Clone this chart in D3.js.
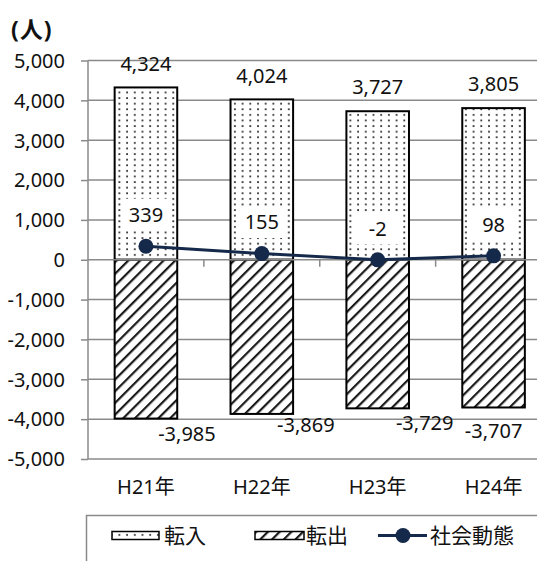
<!DOCTYPE html>
<html lang="ja">
<head>
<meta charset="utf-8">
<script src="https://cdn.jsdelivr.net/npm/d3@7/dist/d3.min.js"></script>
<style>
  html, body { margin: 0; padding: 0; background: #fff; }
  svg { display: block; }
  text { font-family: "Noto Sans", "Noto Sans CJK JP", sans-serif; fill: #111; }
</style>
</head>
<body>
<svg id="chart" width="537" height="561"></svg>
<script>
// 転入・転出・社会動態（人）
const categories = ["H21年", "H22年", "H23年", "H24年"];
const inflow = [4324, 4024, 3727, 3805];
const outflow = [-3985, -3869, -3729, -3707];
const netChange = [339, 155, -2, 98];
const yTicks = [5000, 4000, 3000, 2000, 1000, 0, -1000, -2000, -3000, -4000, -5000];
const seriesNames = ["転入", "転出", "社会動態"];
const unitLabel = "(人)";

// hand-placed offsets for the 転出 value labels (relative to bar centre / bar end)
const outLabelDx = [41, 44, 47, 0];
const outLabelDy = [15, 11, 14, 23];

const svg = d3.select("#chart");

const fmt = d3.formatLocale({ decimal: ".", thousands: ",", grouping: [3], currency: ["", ""], minus: "-" }).format(",");

const x = d3.scaleBand().domain(categories).range([88, 551.5]).paddingInner(0.46).paddingOuter(0.23);
const y = d3.scaleLinear().domain([-5000, 5000]).range([459, 60.5]);

const gridColor = "#8a8a8a";
const navy = "#15294a";

// fill patterns
const defs = svg.append("defs");
const dots = defs.append("pattern").attr("id", "dots").attr("patternUnits", "userSpaceOnUse")
  .attr("width", 7.7).attr("height", 5.6);
dots.append("rect").attr("width", 7.7).attr("height", 5.6).attr("fill", "#fff");
dots.append("rect").attr("x", 3).attr("y", 2).attr("width", 1.8).attr("height", 1.8).attr("fill", "#333");

const hs = 8.3;
const hatch = defs.append("pattern").attr("id", "hatch").attr("patternUnits", "userSpaceOnUse")
  .attr("width", hs).attr("height", hs).attr("patternTransform", "rotate(45)");
hatch.append("rect").attr("width", hs).attr("height", hs).attr("fill", "#fff");
hatch.append("line").attr("x1", 1).attr("y1", 0).attr("x2", 1).attr("y2", hs)
  .attr("stroke", "#1a1a1a").attr("stroke-width", 2.4);

// gridlines (behind bars)
svg.append("g").selectAll("line").data(yTicks.filter(d => d !== 0)).join("line")
  .attr("x1", 88).attr("x2", 551).attr("y1", d => y(d)).attr("y2", d => y(d))
  .attr("stroke", gridColor).attr("stroke-width", 1.5);

// y axis
const yAxis = svg.append("g").attr("transform", "translate(88,0)")
  .call(d3.axisLeft(y).tickValues(yTicks).tickFormat(fmt).tickSize(7).tickPadding(16));
yAxis.select(".domain").attr("stroke", gridColor).attr("stroke-width", 1.5).attr("d", `M0,${y(5000)}V${y(-5000)}`);
yAxis.selectAll(".tick line").attr("stroke", gridColor).attr("stroke-width", 1.5);
yAxis.selectAll(".tick text").attr("font-size", 20).attr("fill", "#111").attr("dy", "0.34em")
  .style("font-family", '"Noto Sans", sans-serif');

// unit label
svg.append("text").attr("x", 11).attr("y", 38).attr("font-size", 23).attr("font-weight", "bold")
  .attr("letter-spacing", 1).text(unitLabel);

// bars
const bw = x.bandwidth();
svg.append("g").selectAll("rect").data(categories).join("rect")
  .attr("x", d => x(d)).attr("width", bw)
  .attr("y", (d, i) => y(inflow[i])).attr("height", (d, i) => y(0) - y(inflow[i]))
  .attr("fill", "url(#dots)").attr("stroke", "#000").attr("stroke-width", 2);
svg.append("g").selectAll("rect").data(categories).join("rect")
  .attr("x", d => x(d)).attr("width", bw)
  .attr("y", y(0)).attr("height", (d, i) => y(outflow[i]) - y(0))
  .attr("fill", "url(#hatch)").attr("stroke", "#000").attr("stroke-width", 2);

// category axis at zero (drawn over the bars)
const x0 = x.range()[0], x1 = x.range()[1];
svg.append("line").attr("x1", x0).attr("x2", x1).attr("y1", y(0)).attr("y2", y(0))
  .attr("stroke", gridColor).attr("stroke-width", 1.5);
const bounds = categories.slice(1).map(c => x(c) - x.step() * x.paddingInner() / 2);
svg.append("g").selectAll("line").data(bounds).join("line")
  .attr("x1", d => d).attr("x2", d => d).attr("y1", y(0)).attr("y2", y(0) + 7)
  .attr("stroke", gridColor).attr("stroke-width", 1.5);

// category labels
const xAxis = svg.append("g").attr("transform", "translate(0,479)")
  .call(d3.axisBottom(x).tickSize(0).tickPadding(0));
xAxis.select(".domain").remove();
xAxis.selectAll(".tick text").attr("font-size", 20).attr("fill", "#111").attr("dy", "0.75em")
  .style("font-family", '"Noto Sans", "Noto Sans CJK JP", sans-serif');

// value labels
const cx = d => x(d) + bw / 2;
svg.append("g").selectAll("text").data(categories).join("text")
  .attr("x", cx).attr("y", (d, i) => y(inflow[i]) - 24).attr("dy", "0.36em")
  .attr("text-anchor", "middle").attr("font-size", 20).text((d, i) => fmt(inflow[i]));
svg.append("g").selectAll("text").data(categories).join("text")
  .attr("x", (d, i) => cx(d) + outLabelDx[i]).attr("y", (d, i) => y(outflow[i]) + outLabelDy[i]).attr("dy", "0.36em")
  .attr("text-anchor", "middle").attr("font-size", 20).text((d, i) => fmt(outflow[i]));

// net change line
const line = d3.line().x(d => cx(d)).y((d, i) => y(netChange[i]));
svg.append("path").datum(categories).attr("d", line)
  .attr("fill", "none").attr("stroke", navy).attr("stroke-width", 3);
svg.append("g").selectAll("circle").data(categories).join("circle")
  .attr("cx", cx).attr("cy", (d, i) => y(netChange[i])).attr("r", 7.5).attr("fill", navy);

// net change labels on a white box
const netLab = svg.append("g").selectAll("g").data(categories).join("g")
  .attr("transform", (d, i) => `translate(${cx(d)},${y(netChange[i]) - 31.5})`);
netLab.append("rect").attr("x", -24).attr("y", -16).attr("width", 48).attr("height", 32).attr("fill", "#fff");
netLab.append("text").attr("text-anchor", "middle").attr("dy", "0.36em").attr("font-size", 20)
  .text((d, i) => fmt(netChange[i]));

// legend
const lg = svg.append("g");
lg.append("rect").attr("x", 86.5).attr("y", 515.5).attr("width", 520).attr("height", 100)
  .attr("fill", "#fff").attr("stroke", gridColor).attr("stroke-width", 1.5);
const legY = 535.5;
lg.append("rect").attr("x", 112).attr("y", legY - 4).attr("width", 47).attr("height", 8)
  .attr("fill", "url(#dots)").attr("stroke", "#000").attr("stroke-width", 1.5);
lg.append("rect").attr("x", 255).attr("y", legY - 4).attr("width", 49).attr("height", 8)
  .attr("fill", "url(#hatch)").attr("stroke", "#000").attr("stroke-width", 1.5);
lg.append("line").attr("x1", 378).attr("x2", 427).attr("y1", legY).attr("y2", legY)
  .attr("stroke", navy).attr("stroke-width", 3);
lg.append("circle").attr("cx", 403).attr("cy", legY).attr("r", 7.5).attr("fill", navy);
const legTextX = [164, 306, 430];
lg.selectAll("text.leg").data(seriesNames).join("text").attr("class", "leg")
  .attr("x", (d, i) => legTextX[i]).attr("y", legY).attr("dy", "0.36em")
  .attr("font-size", 21).style("font-family", '"Noto Sans CJK JP", sans-serif').text(d => d);
</script>
</body>
</html>
